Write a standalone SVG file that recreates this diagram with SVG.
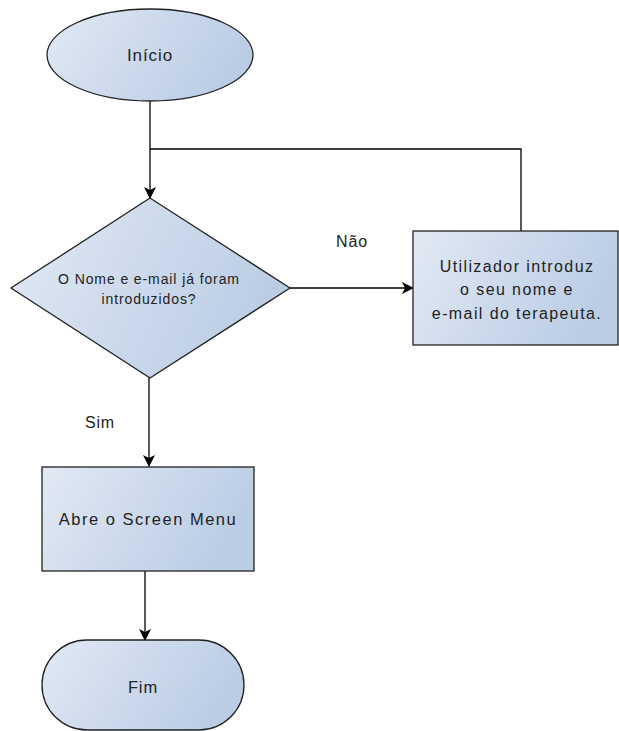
<svg xmlns="http://www.w3.org/2000/svg" width="619" height="731" viewBox="0 0 619 731">
  <style>
    .shape { fill: url(#fillGrad); stroke: #222; stroke-width: 1.3; }
    .edge { fill: none; stroke: #000; stroke-width: 1.3; }
    .label { font-family: "Liberation Sans", Arial, sans-serif; fill: #222; text-anchor: middle; }
  </style>
  <defs>
    <linearGradient id="fillGrad" x1="0" y1="0" x2="1" y2="0.3">
      <stop offset="0" stop-color="#e2e9f4"/>
      <stop offset="1" stop-color="#bbcde5"/>
    </linearGradient>
    <marker id="arrow" viewBox="0 0 12 12" refX="11" refY="6" markerWidth="12" markerHeight="12" markerUnits="userSpaceOnUse" orient="auto">
      <path d="M0,0 L12,6 L0,12 L3,6 Z" fill="#000"/>
    </marker>
  </defs>

  <!-- connectors -->
  <g id="connectors">
    <path class="edge" d="M150,101 V198" marker-end="url(#arrow)"/>
    <path class="edge" d="M521,231 V149 H150"/>
    <path class="edge" d="M290,288 H413" marker-end="url(#arrow)"/>
    <path class="edge" d="M149,378 V466" marker-end="url(#arrow)"/>
    <path class="edge" d="M145,571 V640" marker-end="url(#arrow)"/>
    <text class="label" x="352" y="247" font-size="16" letter-spacing="0.8">Não</text>
    <text class="label" x="100" y="428" font-size="16" letter-spacing="0.8">Sim</text>
  </g>

  <g id="inicio">
    <ellipse class="shape" cx="150" cy="55" rx="103" ry="46"/>
    <text class="label" x="150" y="61" font-size="17" letter-spacing="0.9">Início</text>
  </g>

  <g id="decisao">
    <polygon class="shape" points="150,198 290,288 150,378 11,288"/>
    <text class="label" x="149" y="284" font-size="14" letter-spacing="0.9">O Nome e e-mail já foram</text>
    <text class="label" x="149" y="304" font-size="14" letter-spacing="0.9">introduzidos?</text>
  </g>

  <g id="introduz">
    <rect class="shape" x="413" y="231" width="205" height="114"/>
    <text class="label" x="517" y="272" font-size="16" letter-spacing="1.4">Utilizador introduz</text>
    <text class="label" x="517" y="295" font-size="16" letter-spacing="1.4">o seu nome e</text>
    <text class="label" x="517" y="319" font-size="16" letter-spacing="1.4">e-mail do terapeuta.</text>
  </g>

  <g id="menu">
    <rect class="shape" x="42" y="467" width="212" height="104"/>
    <text class="label" x="148" y="525" font-size="16.5" letter-spacing="1.5">Abre o Screen Menu</text>
  </g>

  <g id="fim">
    <rect class="shape" x="42" y="640" width="202" height="90" rx="45" ry="45"/>
    <text class="label" x="143" y="693" font-size="16.5" letter-spacing="0.9">Fim</text>
  </g>
</svg>
